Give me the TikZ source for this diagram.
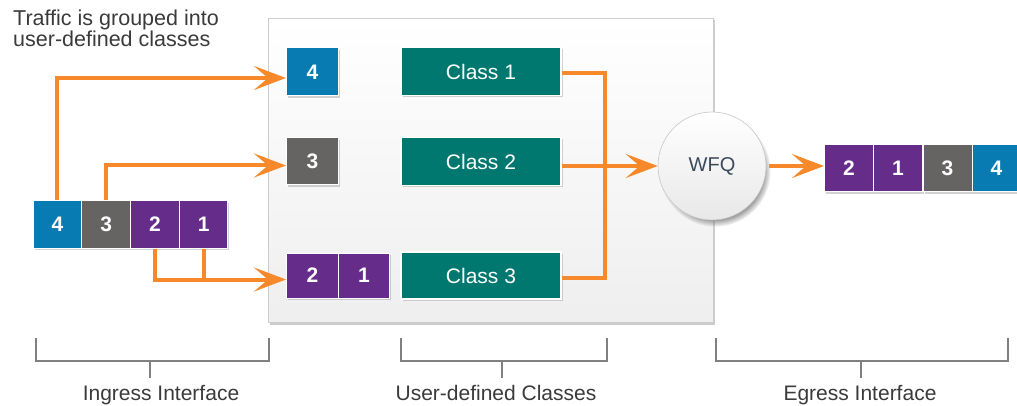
\documentclass[tikz,border=0pt]{standalone}
\usepackage{fontspec}
\setmainfont{Liberation Sans}
\usetikzlibrary{arrows.meta,shadows}
\definecolor{pblue}{HTML}{087CB2}
\definecolor{pgray}{HTML}{666363}
\definecolor{ppurple}{HTML}{652C8A}
\definecolor{pteal}{HTML}{00776F}
\definecolor{porange}{HTML}{F7892B}
\definecolor{ptext}{HTML}{3A3A3A}
\definecolor{pbrk}{HTML}{808080}
\definecolor{wfqtext}{HTML}{3B4A5A}
\tikzset{
  pkt/.style={minimum width=49pt, minimum height=47pt, inner sep=0pt, draw=white, line width=1pt,
    text=white, font=\bfseries\fontsize{21}{21}\selectfont,
    drop shadow={shadow xshift=1.5pt, shadow yshift=-2pt, opacity=.35}},
  cls/.style={minimum width=160pt, minimum height=48pt, inner sep=0pt, draw=white, line width=1.5pt,
    fill=pteal, text=white, font=\fontsize{21}{21}\selectfont,
    drop shadow={shadow xshift=1.5pt, shadow yshift=-2pt, opacity=.35}},
  flow/.style={draw=porange, line width=4pt},
  flowarr/.style={flow, -{Stealth[length=32pt,width=24pt,inset=14pt]}},
  brk/.style={draw=pbrk, line width=1.2pt},
  lbl/.style={text=ptext, font=\fontsize{21}{21}\selectfont, inner sep=0pt}
}
\begin{document}
\begin{tikzpicture}[x=1pt,y=-1pt]
\useasboundingbox (0,0) rectangle (1017,406);
% panel
\node (panel) [minimum width=445pt, minimum height=304pt, inner sep=0pt, draw=gray!40, line width=0.8pt,
  top color=white, bottom color=gray!13,
  drop shadow={shadow xshift=2pt, shadow yshift=-2.5pt, opacity=.4}] at (490.5,170) {};
% title
\node (title) [anchor=north west, align=left, inner sep=0pt, text=ptext,
  font=\fontsize{21.5}{19}\selectfont] at (13,10) {Traffic is grouped into\\user-defined classes};
% ingress packets
\node (in4) [pkt, fill=pblue, minimum width=48.75pt] at (57.4,224.5) {4};
\node (in3) [pkt, fill=pgray, minimum width=48.75pt] at (106.1,224.5) {3};
\node (in2) [pkt, fill=ppurple, minimum width=48.75pt] at (154.9,224.5) {2};
\node (in1) [pkt, fill=ppurple, minimum width=48.75pt] at (203.6,224.5) {1};
% panel packets
\node (p4) [pkt, fill=pblue, minimum width=52pt, minimum height=48pt] at (312.5,72) {4};
\node (p3) [pkt, fill=pgray, minimum width=52pt] at (312.5,161.5) {3};
\node (p2) [pkt, fill=ppurple, minimum width=52pt, minimum height=45pt] at (312.5,275.5) {2};
\node (p1) [pkt, fill=ppurple, minimum width=51pt, minimum height=45pt] at (364,275.5) {1};
% classes
\node (c1) [cls] at (481,71.5) {Class 1};
\node (c2) [cls] at (481,161.5) {Class 2};
\node (c3) [cls, minimum height=47pt] at (481,275.5) {Class 3};
% WFQ
\node (wfq) [circle, minimum size=108pt, inner sep=0pt, draw=gray!45, line width=0.6pt,
  top color=white, bottom color=gray!18, text=wfqtext, font=\fontsize{20}{20}\selectfont,
  circular drop shadow={shadow scale=1.03, shadow xshift=3pt, shadow yshift=-5pt, opacity=.85}] at (712,166) {WFQ};
% egress packets
\node (e2) [pkt, fill=ppurple] at (849,168.5) {2};
\node (e1) [pkt, fill=ppurple] at (898,168.5) {1};
\node (e3) [pkt, fill=pgray] at (947.5,168.5) {3};
\node (e4) [pkt, fill=pblue] at (996.5,168.5) {4};
% flows ingress -> panel
\coordinate (t4) at ([yshift=-6pt]p4.west);
\coordinate (t3) at ([yshift=-4pt]p3.west);
\coordinate (t2) at ([yshift=-4pt]p2.west);
\draw[flowarr] (in4.north) |- (t4);
\draw[flowarr] (in3.north) |- (t3);
\draw[flowarr] (in2.south) |- (t2);
\draw[flow] (in1.south) -- (in1.south |- t2);
% classes -> WFQ
\coordinate (m) at (605,166);
\draw[flow] ([yshift=-2pt]c1.east) -| (m);
\draw[flow] ([yshift=-2pt]c3.east) -| (m);
\draw[flowarr] (c2.east |- wfq.west) -- (wfq.west);
% WFQ -> egress
\draw[flowarr] ([xshift=3pt]wfq.east) -- (wfq.east -| e2.west);
% brackets
\draw[brk] (36,338) -- (36,361) -- (269,361) -- (269,338);
\draw[brk] (150,361) -- (150,378);
\draw[brk] (401,338) -- (401,361) -- (607,361) -- (607,338);
\draw[brk] (502,361) -- (502,378);
\draw[brk] (716,338) -- (716,361) -- (1008,361) -- (1008,338);
\draw[brk] (861,361) -- (861,378);
\node (l1) [lbl, anchor=base] at (161,400) {Ingress Interface};
\node (l2) [lbl, anchor=base] at (496,400) {User-defined Classes};
\node (l3) [lbl, anchor=base] at (860,400) {Egress Interface};
\end{tikzpicture}
\end{document}
